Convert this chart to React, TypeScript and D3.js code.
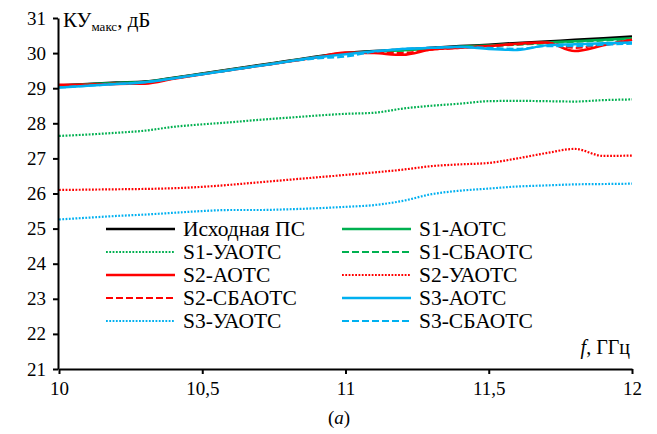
import React, { useEffect, useRef } from 'react';
import * as d3 from 'd3';

// frequency grid, GHz
const freq = [10, 10.1, 10.2, 10.3, 10.4, 10.5, 10.6, 10.7, 10.8, 10.9, 11, 11.1, 11.2, 11.3, 11.4, 11.5, 11.6, 11.7, 11.8, 11.9, 12];

const base = [29.08, 29.12, 29.16, 29.19, 29.3, 29.42, 29.54, 29.66, 29.78, 29.9, 30.0, 30.06, 30.1, 30.15, 30.2, 30.24, 30.29, 30.33, 30.38, 30.42, 30.47];
const s1A = [29.07, 29.11, 29.15, 29.18, 29.29, 29.41, 29.53, 29.65, 29.77, 29.89, 29.99, 30.04, 30.08, 30.13, 30.18, 30.22, 30.26, 30.3, 30.34, 30.38, 30.42];
const s1U = [27.64, 27.68, 27.73, 27.79, 27.9, 27.97, 28.03, 28.1, 28.16, 28.22, 28.27, 28.3, 28.42, 28.5, 28.56, 28.63, 28.64, 28.63, 28.62, 28.66, 28.68];
const s1S = [29.06, 29.1, 29.14, 29.17, 29.28, 29.4, 29.52, 29.64, 29.76, 29.88, 29.98, 30.03, 30.07, 30.12, 30.17, 30.2, 30.24, 30.28, 30.32, 30.36, 30.4];
const s2A = [29.1, 29.1, 29.12, 29.13, 29.27, 29.4, 29.52, 29.64, 29.76, 29.88, 30.02, 30.0, 29.95, 30.1, 30.15, 30.2, 30.27, 30.3, 30.06, 30.22, 30.38];
const s2U = [26.1, 26.11, 26.12, 26.13, 26.15, 26.19, 26.25, 26.32, 26.39, 26.46, 26.53, 26.6, 26.68, 26.78, 26.83, 26.87, 27.0, 27.15, 27.27, 27.07, 27.08];
const s2S = [29.08, 29.1, 29.13, 29.15, 29.28, 29.4, 29.52, 29.64, 29.76, 29.88, 30.0, 30.02, 30.0, 30.1, 30.15, 30.2, 30.25, 30.3, 30.15, 30.25, 30.38];
const s3A = [29.02, 29.07, 29.12, 29.17, 29.28, 29.4, 29.52, 29.64, 29.76, 29.88, 29.97, 30.05, 30.12, 30.15, 30.18, 30.12, 30.09, 30.22, 30.25, 30.28, 30.3];
const s3U = [25.26, 25.31, 25.36, 25.4, 25.45, 25.5, 25.53, 25.53, 25.55, 25.58, 25.62, 25.67, 25.79, 25.98, 26.08, 26.14, 26.2, 26.23, 26.26, 26.27, 26.28];
const s3S = [29.02, 29.07, 29.12, 29.17, 29.28, 29.4, 29.52, 29.64, 29.76, 29.85, 29.9, 30.04, 30.12, 30.15, 30.17, 30.15, 30.12, 30.2, 30.2, 30.24, 30.27];

const seriesNames = ['Исходная ПС', 'S1-АОТС', 'S1-УАОТС', 'S1-СБАОТС', 'S2-АОТС', 'S2-УАОТС', 'S2-СБАОТС', 'S3-АОТС', 'S3-УАОТС', 'S3-СБАОТС'];
const seriesValues = [base, s1A, s1U, s1S, s2A, s2U, s2S, s3A, s3U, s3S];
const seriesColors = ['#000000', '#00B050', '#00B050', '#00B050', '#FF0000', '#FF0000', '#FF0000', '#00B0F0', '#00B0F0', '#00B0F0'];
const seriesStyles = ['solid', 'solid', 'dot', 'dash', 'solid', 'dot', 'dash', 'solid', 'dot', 'dash'];

const xTicks = [10, 10.5, 11, 11.5, 12];
const yTicks = [21, 22, 23, 24, 25, 26, 27, 28, 29, 30, 31];

const FONT = "'Times New Roman', 'Liberation Serif', serif";

const dashFor = (s) => (s === 'dot' ? '1.8 1.5' : s === 'dash' ? '7 3' : null);

const App = () => {
  const svgRef = useRef();
  const width = 657;
  const height = 434;

  useEffect(() => {
    const svg = d3.select(svgRef.current);
    svg.selectAll('*').remove();

    const x = d3.scaleLinear().domain([10, 12]).range([59, 632]);
    const y = d3.scaleLinear().domain([21, 31]).range([369, 18]);

    // lines
    const line = d3.line()
      .x((d, i) => x(freq[i]))
      .y(d => y(d))
      .curve(d3.curveMonotoneX);

    seriesValues.forEach((vals, k) => {
      const st = seriesStyles[k];
      svg.append('path')
        .datum(vals)
        .attr('fill', 'none')
        .attr('stroke', seriesColors[k])
        .attr('stroke-width', st === 'solid' ? 2.5 : 2.2)
        .attr('stroke-dasharray', dashFor(st))
        .attr('d', line);
    });

    // y axis
    const yAxis = svg.append('g')
      .attr('transform', `translate(${x(10) - 1},0)`)
      .call(d3.axisLeft(y).tickValues(yTicks).tickSize(5).tickSizeOuter(0).tickPadding(7));
    yAxis.select('.domain').attr('stroke-width', 2);
    yAxis.selectAll('.tick line').attr('stroke-width', 2);
    yAxis.selectAll('text').style('font-family', FONT).style('font-size', '19px').attr('fill', '#000');

    // x axis
    const xAxis = svg.append('g')
      .attr('transform', `translate(0,${y(21)})`)
      .call(d3.axisBottom(x).tickValues(xTicks).tickSize(5).tickSizeOuter(0).tickPadding(8)
        .tickFormat(d => String(d).replace('.', ',')));
    xAxis.select('.domain').attr('stroke-width', 2);
    xAxis.selectAll('.tick line').attr('stroke-width', 2);
    xAxis.selectAll('text').style('font-family', FONT).style('font-size', '19px').attr('fill', '#000');

    // axis titles
    const yt = svg.append('text')
      .attr('x', 63).attr('y', 27)
      .style('font-family', FONT).style('font-size', '21px').attr('fill', '#000');
    yt.append('tspan').text('КУ');
    yt.append('tspan').style('font-size', '13px').attr('dy', 4).text('макс');
    yt.append('tspan').attr('dy', -4).text(', дБ');

    const xt = svg.append('text')
      .attr('x', 630).attr('y', 354).attr('text-anchor', 'end')
      .style('font-family', FONT).style('font-size', '20px').attr('fill', '#000');
    xt.append('tspan').style('font-style', 'italic').text('f');
    xt.append('tspan').text(', ГГц');

    const cap = svg.append('text')
      .attr('x', 339).attr('y', 424).attr('text-anchor', 'middle')
      .style('font-family', FONT).style('font-size', '19px').attr('fill', '#000');
    cap.append('tspan').text('(');
    cap.append('tspan').style('font-style', 'italic').text('a');
    cap.append('tspan').text(')');

    // legend
    const leg = svg.append('g');
    seriesNames.forEach((name, k) => {
      const col = k % 2;
      const row = Math.floor(k / 2);
      const lx = col === 0 ? 106 : 342;
      const ly = 229 + row * 23;
      const st = seriesStyles[k];
      leg.append('line')
        .attr('x1', lx).attr('x2', lx + 69)
        .attr('y1', ly).attr('y2', ly)
        .attr('stroke', seriesColors[k])
        .attr('stroke-width', st === 'solid' ? 2.5 : 2.2)
        .attr('stroke-dasharray', dashFor(st));
      leg.append('text')
        .attr('x', lx + 77).attr('y', ly + 7)
        .style('font-family', FONT).style('font-size', '21.5px').attr('fill', '#000')
        .text(name);
    });
  }, []);

  return (
    <svg ref={svgRef} width={width} height={height}
      style={{ position: 'absolute', left: 0, top: 0, background: '#fff' }}></svg>
  );
};

export default App;
